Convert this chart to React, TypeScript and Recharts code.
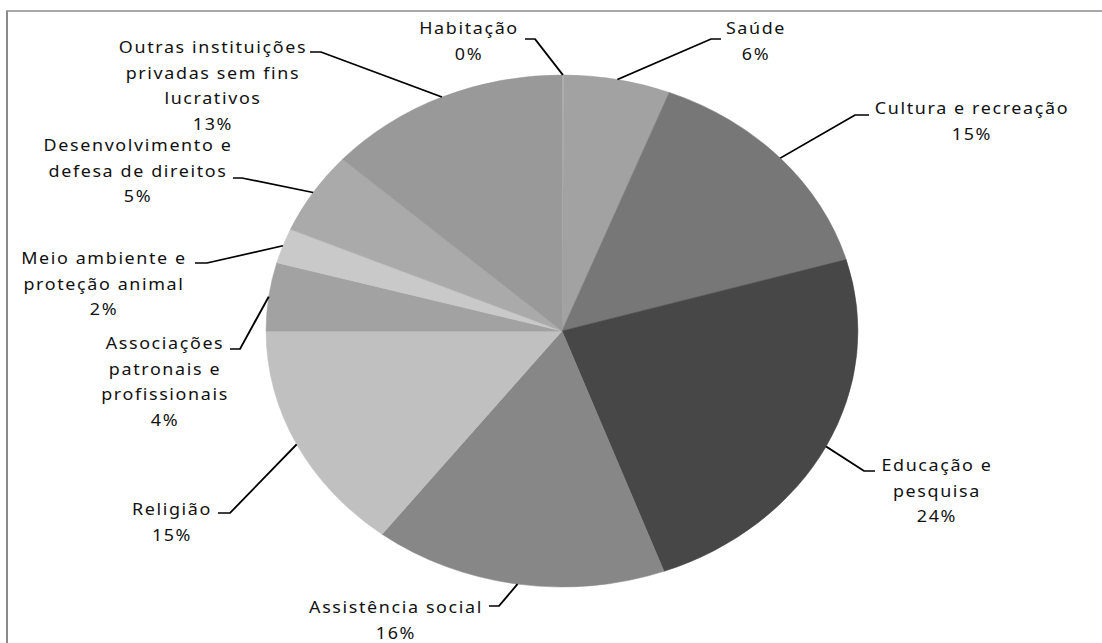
import { PieChart, Pie, Cell } from "recharts";

// categorias e participação (%)
const categories = [
  "Habitação",
  "Saúde",
  "Cultura e recreação",
  "Educação e pesquisa",
  "Assistência social",
  "Religião",
  "Associações patronais e profissionais",
  "Meio ambiente e proteção animal",
  "Desenvolvimento e defesa de direitos",
  "Outras instituições privadas sem fins lucrativos",
];
const shares = [0.1, 5.8, 14.6, 23.9, 16.0, 14.6, 4.3, 2.2, 5.2, 13.3];
const labelText = [
  ["Habitação"],
  ["Saúde"],
  ["Cultura e recreação"],
  ["Educação e", "pesquisa"],
  ["Assistência social"],
  ["Religião"],
  ["Associações", "patronais e", "profissionais"],
  ["Meio ambiente e", "proteção animal"],
  ["Desenvolvimento e", "defesa de direitos"],
  ["Outras instituições", "privadas sem fins", "lucrativos"],
];
const colors = [
  "#b4b4b4",
  "#a2a2a2",
  "#777777",
  "#474747",
  "#878787",
  "#c0c0c0",
  "#a2a2a2",
  "#c9c9c9",
  "#aaaaaa",
  "#999999",
];

// posição dos rótulos (coordenadas da tela): texto, cotovelo e ponta da linha
const labelLayout = [
  { tx: 469, ty: 28, ex: 535, ey: 39, sx: 525 },
  { tx: 756, ty: 28, ex: 711, ey: 39, sx: 721 },
  { tx: 972, ty: 108, ex: 855, ey: 115, sx: 869 },
  { tx: 937, ty: 465, ex: 864, ey: 471, sx: 875 },
  { tx: 396, ty: 607, ex: 499, ey: 606, sx: 489 },
  { tx: 172, ty: 509, ex: 230, ey: 513, sx: 218 },
  { tx: 165, ty: 343, ex: 240, ey: 349, sx: 230 },
  { tx: 104, ty: 258, ex: 207, ey: 263, sx: 195 },
  { tx: 138, ty: 145, ex: 242, ey: 178, sx: 233 },
  { tx: 213, ty: 47, ex: 321, ey: 52, sx: 310 },
];

const data = categories.map((name, i) => ({ name, value: shares[i] }));

const W = 1102;
const H = 643;
const K = 1.156; // a pizza original é esticada na horizontal
const CX = 562;
const CY = 331;
const R = 256;

function renderLabel(props: any) {
  const { cx, cy, midAngle, outerRadius, index, percent } = props;
  const L = labelLayout[index];
  const rad = Math.PI / 180;
  const x0 = cx + outerRadius * Math.cos(-midAngle * rad);
  const y0 = cy + outerRadius * Math.sin(-midAngle * rad);
  const lines = [...labelText[index], `${Math.round(percent * 100)}%`];
  return (
    <g key={`lbl-${index}`}>
      <polyline
        points={`${x0},${y0} ${L.ex / K},${L.ey} ${L.sx / K},${L.ey}`}
        fill="none"
        stroke="#000"
        strokeWidth={1.7}
      />
      {lines.map((t, i) => (
        <text
          key={i}
          x={L.tx / K}
          y={L.ty + i * 25.5}
          textAnchor="middle"
          dominantBaseline="central"
          fontFamily="'Noto Sans', sans-serif"
          fontSize={15.5}
          letterSpacing={1.4}
          fill="#111"
        >
          {t}
        </text>
      ))}
    </g>
  );
}

export default function App() {
  return (
    <div
      style={{
        position: "absolute",
        left: 0,
        top: 0,
        width: W,
        height: H,
        overflow: "hidden",
        background: "#fff",
      }}
    >
      <div
        style={{
          position: "absolute",
          left: 6,
          top: 10,
          width: W + 100,
          height: H + 100,
          borderLeft: "2px solid #8a8a8a",
          borderTop: "2px solid #a8a8a8",
        }}
      />
      <div
        style={{
          position: "absolute",
          left: 0,
          top: 0,
          width: W / K,
          height: H,
          transform: `scaleX(${K})`,
          transformOrigin: "0 0",
        }}
      >
        <PieChart width={W / K} height={H} margin={{ top: 0, right: 0, bottom: 0, left: 0 }}>
          <Pie
            data={data}
            dataKey="value"
            nameKey="name"
            cx={CX / K}
            cy={CY}
            outerRadius={R}
            startAngle={90}
            endAngle={-270}
            label={renderLabel}
            labelLine={false}
            isAnimationActive={false}
          >
            {data.map((d, i) => (
              <Cell key={d.name} fill={colors[i]} stroke={colors[i]} strokeWidth={0.5} />
            ))}
          </Pie>
        </PieChart>
      </div>
    </div>
  );
}
